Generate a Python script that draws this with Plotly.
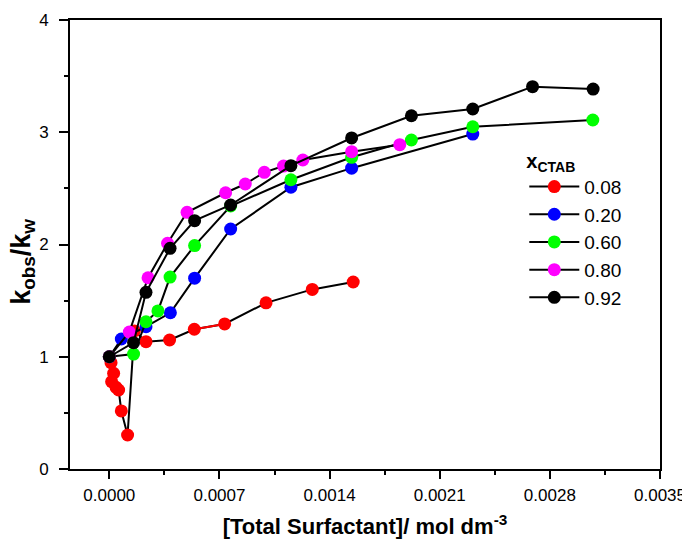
import plotly.graph_objects as go

x_008 = [0.0, 0.0000108, 0.0000273, 0.0000146, 0.0000426, 0.000059, 0.0000762, 0.000116,
         0.000159, 0.000233, 0.000383, 0.00054, 0.000733, 0.000996, 0.00129, 0.00155]
y_008 = [1.0, 0.947, 0.853, 0.778, 0.728, 0.704, 0.517, 0.303,
         1.23, 1.134, 1.149, 1.245, 1.292, 1.48, 1.60, 1.666]

x_020 = [0.0, 0.0000762, 0.000233, 0.000388, 0.000542, 0.000771, 0.001154, 0.00154, 0.00231]
y_020 = [1.0, 1.158, 1.268, 1.392, 1.70, 2.138, 2.51, 2.68, 2.984]

x_060 = [0.0, 0.000154, 0.000233, 0.000309, 0.000386, 0.000542, 0.000771, 0.001154,
         0.00154, 0.00192, 0.00231, 0.003073]
y_060 = [1.0, 1.024, 1.312, 1.408, 1.71, 1.99, 2.343, 2.577, 2.777, 2.931, 3.049, 3.109]

x_080 = [0.0, 0.000127, 0.000246, 0.00037, 0.000494, 0.000739, 0.000864, 0.000985,
         0.001107, 0.00123, 0.00154, 0.001846]
y_080 = [1.0, 1.22, 1.704, 2.011, 2.287, 2.461, 2.539, 2.643, 2.699, 2.753, 2.827, 2.889]

x_092 = [0.0, 0.000154, 0.000233, 0.000386, 0.000542, 0.000771, 0.001154, 0.00154,
         0.00192, 0.00231, 0.00269, 0.003075]
y_092 = [1.0, 1.125, 1.574, 1.966, 2.212, 2.352, 2.702, 2.949, 3.147, 3.207, 3.406, 3.385]

labels = ["0.08", "0.20", "0.60", "0.80", "0.92"]
colors = ["#ff0000", "#0000ff", "#00ff00", "#ff00ff", "#000000"]
series = [(x_008, y_008), (x_020, y_020), (x_060, y_060), (x_080, y_080), (x_092, y_092)]

x_ticks = [0.0, 0.0007, 0.0014, 0.0021, 0.0028, 0.0035]
x_ticklabels = ["0.0000", "0.0007", "0.0014", "0.0021", "0.0028", "0.0035"]
y_ticks = [0, 1, 2, 3, 4]

fig = go.Figure()
for (xs, ys), lab, col in zip(series, labels, colors):
    fig.add_trace(go.Scatter(
        x=xs, y=ys, mode="lines+markers", name=lab,
        line=dict(color="black", width=2),
        marker=dict(color=col, size=13, line=dict(width=0)),
    ))
    if lab == "0.08":
        fig.add_trace(go.Scatter(
            x=xs[11:13], y=ys[11:13], mode="lines", showlegend=False,
            line=dict(color="#ff0000", width=2), hoverinfo="skip",
        ))

font = "Arial, Liberation Sans, sans-serif"
# the page body adds an 8px offset; the figure is sized so it fits the 690x539 window
fig.update_layout(
    width=682, height=531,
    margin=dict(l=62, r=30, t=12, b=70, autoexpand=False),
    plot_bgcolor="white", paper_bgcolor="white",
    font=dict(family=font, color="black"),
    showlegend=True,
    legend=dict(
        x=0.77, y=0.729, xanchor="left", yanchor="top",
        font=dict(size=19, family=font),
        title=dict(text="<b>x<sub>CTAB</sub></b>", font=dict(size=20, family=font)),
        bgcolor="rgba(0,0,0,0)", tracegroupgap=0, itemwidth=50,
    ),
    xaxis=dict(
        range=[-0.00025, 0.0035], tickvals=x_ticks, ticktext=x_ticklabels,
        ticks="outside", ticklen=8, tickwidth=1.5, tickcolor="black",
        minor=dict(dtick=0.00035, tick0=0, ticks="outside", ticklen=4, tickwidth=1.5, tickcolor="black"),
        showline=True, linecolor="black", linewidth=2, mirror=True,
        showgrid=False, zeroline=False, automargin=False,
        tickfont=dict(size=17, family=font), ticklabelstandoff=2,
        title=dict(text="<b>[Total Surfactant]/ mol dm<sup>-3</sup></b>", font=dict(size=22, family=font), standoff=25),
    ),
    yaxis=dict(
        range=[0, 4], tickvals=y_ticks,
        ticks="outside", ticklen=9, tickwidth=1.5, tickcolor="black",
        minor=dict(dtick=0.5, ticks="outside", ticklen=4, tickwidth=1.5, tickcolor="black"),
        showline=True, linecolor="black", linewidth=2, mirror=True,
        showgrid=False, zeroline=False, automargin=False,
        tickfont=dict(size=17, family=font), ticklabelstandoff=7,
    ),
    annotations=[dict(
        text="<b>k<sub>obs</sub>/k<sub>w</sub></b>", textangle=-90,
        xref="paper", yref="paper", x=-0.08, y=0.461,
        xanchor="center", yanchor="middle", showarrow=False,
        font=dict(size=27, family=font, color="black"),
    )],
)

fig.write_html("out.html")
